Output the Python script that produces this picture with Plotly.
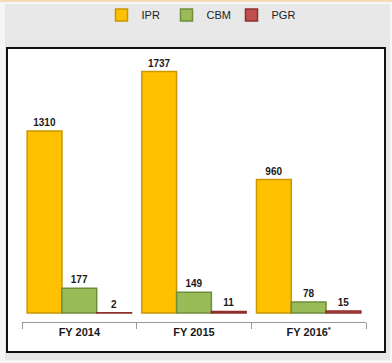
import plotly.graph_objects as go

categories = ["FY 2014", "FY 2015", "FY 2016<sup>*</sup>"]
ipr = [1310, 1737, 960]
cbm = [177, 149, 78]
pgr = [2, 11, 15]

series = [
    ("IPR", ipr, "#FFC000", "#C99700"),
    ("CBM", cbm, "#9BBB59", "#6E8E3A"),
    ("PGR", pgr, "#C0504D", "#8E2F2C"),
]

W, H = 392, 363
L, R, T, B = 22, 26, 55, 41
PW, PH = W - L - R, H - T - B

def px(x):  # window pixel -> paper
    return (x - L) / PW

def py(y):
    return (H - B - y) / PH

fig = go.Figure()
for name, vals, col, edge in series:
    fig.add_trace(go.Bar(
        name=name, x=categories, y=vals,
        marker=dict(color=col, line=dict(color=edge, width=1.5)),
        text=[str(v) for v in vals], textposition="outside",
        textfont=dict(family="Liberation Sans", size=10, color="#1a1a1a"),
        texttemplate="<b>%{text}</b>", cliponaxis=False,
    ))

fig.update_layout(
    width=W, height=H,
    margin=dict(l=L, r=R, t=T, b=B, autoexpand=False),
    paper_bgcolor="#f6f6f6", plot_bgcolor="rgba(0,0,0,0)",
    barmode="group", bargap=0.09, bargroupgap=0,
    showlegend=True,
    legend=dict(orientation="h", x=px(199), xanchor="center", y=py(15), yanchor="middle",
                font=dict(family="Liberation Sans", size=11, color="#222"),
                bgcolor="rgba(0,0,0,0)", itemwidth=30, tracegroupgap=0,
                entrywidth=20, entrywidthmode="pixels"),
    font=dict(family="Liberation Sans"),
    shapes=[
        dict(type="rect", xref="paper", yref="paper", x0=px(5), x1=px(390), y0=py(360), y1=py(4),
             fillcolor="#e8e8e8", line=dict(width=0), layer="below"),
        dict(type="line", xref="paper", yref="paper", x0=px(0), x1=px(392), y0=py(1), y1=py(1),
             line=dict(color="#f6dcb4", width=2), layer="below"),
        dict(type="rect", xref="paper", yref="paper", x0=px(7), x1=px(385), y0=py(352), y1=py(48),
             fillcolor="white", line=dict(color="#111", width=2), layer="below"),
    ],
)
fig.update_xaxes(
    automargin=False,
    showline=True, linecolor="#999", linewidth=1,
    ticks="outside", tickson="boundaries", ticklen=6, tickcolor="#999",
    tickfont=dict(family="Liberation Sans", size=11, color="#1a1a1a"),
    tickprefix="<b>", ticksuffix="</b>",
)
fig.update_yaxes(automargin=False, range=[-65, 1856], visible=False, showgrid=False, zeroline=False)

fig.write_html("out.html", config={"displayModeBar": False},
               post_script="document.body.style.margin='0';document.body.style.overflow='hidden';")
